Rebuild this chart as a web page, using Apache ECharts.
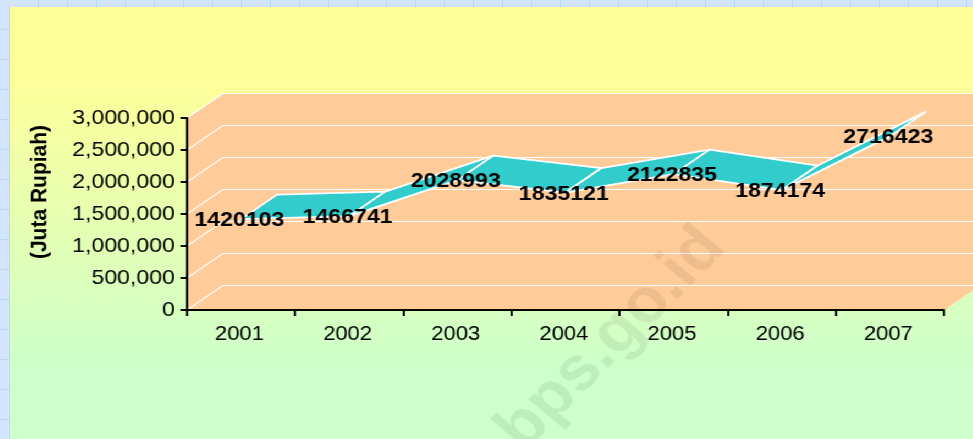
<!DOCTYPE html>
<html><head><meta charset="utf-8">
<style>
html,body{margin:0;padding:0;width:973px;height:439px;overflow:hidden;
background-color:#d2e5fc;
background-image:repeating-linear-gradient(to right,transparent 0,transparent 28px,#b9d7f9 28px,#b9d7f9 29px),repeating-linear-gradient(to bottom,transparent 0,transparent 29px,#b9d7f9 29px,#b9d7f9 30px);
background-position:10px 0,0 0;}
#c{position:absolute;left:10px;top:7px;width:876px;height:432px;transform-origin:0 0;transform:scaleX(1.1);box-shadow:-1px 0 0 #b4d2fb;}
</style>
<script src="https://cdn.jsdelivr.net/npm/echarts@6/dist/echarts.min.js"></script>
</head><body><div id="c"></div>
<script>
var categories=['2001','2002','2003','2004','2005','2006','2007'];
var values=[1420103,1466741,2028993,1835121,2122835,1874174,2716423];
var yTicks=[0,500000,1000000,1500000,2000000,2500000,3000000];
var axisTitle='(Juta Rupiah)';
var watermark='bps.go.id';
var DX=32.7, DY=-24.5;

var chart=echarts.init(document.getElementById('c'),null,{renderer:'canvas'});
function offset(p){return [p[0]+DX,p[1]+DY];}
function wall(params,api){
  var cs=params.coordSys, L=cs.x, R=cs.x+cs.width, B=cs.y+cs.height, T=cs.y;
  var kids=[{type:'polygon',shape:{points:[[L,B],[L,T],[L+DX,T+DY],[R+DX,T+DY],[R+DX,B+DY],[R,B]]},style:{fill:'#ffcc99'}}];
  yTicks.forEach(function(v){
    var y=api.coord([0,v])[1];
    kids.push({type:'polyline',shape:{points:[[L,y],[L+DX,y+DY],[R+DX,y+DY]]},style:{fill:null,stroke:'#ffffff',lineWidth:1.2}});
  });
  return {type:'group',children:kids};
}
function ribbon(params,api){
  var a=api.coord([api.value(0),api.value(1)]), b=api.coord([api.value(0)+1,api.value(2)]);
  return {type:'polygon',shape:{points:[a,b,offset(b),offset(a)]},style:{fill:'#33cccc',stroke:'#ffffff',lineWidth:1.8,lineJoin:'round'}};
}
chart.setOption({
  animation:false,
  backgroundColor:{type:'linear',x:0,y:0,x2:0,y2:1,colorStops:[{offset:0,color:'#ffff99'},{offset:0.15,color:'#ffff99'},{offset:0.85,color:'#ccffcc'},{offset:1,color:'#ccffcc'}]},
  textStyle:{fontFamily:'Liberation Sans'},
  grid:{left:160.9,top:111,width:688.2,height:192,containLabel:false},
  xAxis:{type:'category',data:categories,z:5,boundaryGap:true,
    axisLine:{lineStyle:{color:'#000',width:2}},axisTick:{show:true,alignWithLabel:false,length:6,lineStyle:{color:'#000',width:2}},
    axisLabel:{color:'#000',fontSize:20,margin:14,padding:[0,3,0,0],fontFamily:'Liberation Sans'}},
  yAxis:{type:'value',min:0,max:3000000,interval:500000,z:5,
    axisLine:{show:true,lineStyle:{color:'#000',width:2}},axisTick:{show:true,length:6,lineStyle:{color:'#000',width:2}},
    splitLine:{show:false},
    axisLabel:{color:'#000',fontSize:21,margin:11,fontFamily:'Liberation Sans',formatter:function(v){return v.toLocaleString('en-US');}}},
  graphic:[
   {type:'text',z:50,silent:true,x:547,y:332,rotation:47.7*Math.PI/180,
    style:{text:watermark,fill:'rgba(0,0,0,0.07)',font:'bold 62px "Liberation Sans"',textAlign:'center',textVerticalAlign:'middle'}},
   {type:'text',z:50,silent:true,x:27.6,y:185,rotation:Math.PI/2,
    style:{text:axisTitle,fill:'#000',font:'bold 21px "Liberation Sans"',textAlign:'center',textVerticalAlign:'middle'}}],
  series:[
    {type:'custom',z:1,clip:false,silent:true,data:[[0]],renderItem:wall},
    {type:'custom',z:2,clip:false,silent:true,data:values.slice(0,-1).map(function(v,i){return [i,v,values[i+1]];}),renderItem:ribbon,encode:{x:0,y:1}},
    {type:'scatter',z:3,data:values,symbolSize:1,itemStyle:{color:'transparent'},
     label:{show:true,position:'inside',offset:[0,1.5],color:'#000',opacity:1,textBorderWidth:0,textShadowBlur:0,fontSize:21,fontWeight:'bold',fontFamily:'Liberation Sans',padding:[0,3,0,0],formatter:function(p){return String(p.value);}}}
  ]
});
</script></body></html>
